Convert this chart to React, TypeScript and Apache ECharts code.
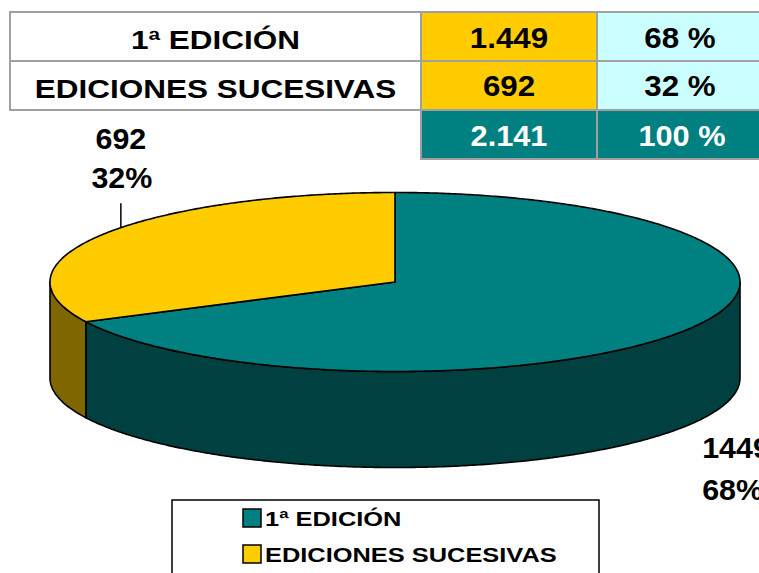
import React, { useEffect, useRef } from 'react';
import * as echarts from 'echarts';

// ---- data ----
const categories = ['1ª EDICIÓN', 'EDICIONES SUCESIVAS'];
const values = [1449, 692];
const valueTexts = ['1.449', '692'];
const percentTexts = ['68 %', '32 %'];
const totalText = '2.141';
const totalPercentText = '100 %';
const sliceValueLabels = ['1449', '692'];
const slicePercentLabels = ['68%', '32%'];

// ---- styles / layout ----
const FONT = '"Liberation Sans", Arial, sans-serif';
const topColors = ['#008080', '#FFCC00'];
const sideColors = ['#004040', '#806600'];
const CX = 395, CY = 282, RX = 345, RY = 89.5, DEPTH = 96;

const total = values.reduce((a, b) => a + b, 0);
const sliceAngles = (() => {
  let cum = 0;
  return values.map((v) => {
    const start = 90 - (360 * cum) / total;
    cum += v;
    const end = 90 - (360 * cum) / total;
    return { lo: end, hi: start, mid: (start + end) / 2 };
  });
})();

function pt(deg: number, dy = 0): number[] {
  const r = (deg * Math.PI) / 180;
  return [CX + RX * Math.cos(r), CY - RY * Math.sin(r) + dy];
}
function arc(a: number, b: number, dy: number): number[][] {
  const pts: number[][] = [];
  const n = Math.max(2, Math.ceil(Math.abs(b - a) / 0.5));
  for (let i = 0; i <= n; i++) pts.push(pt(a + ((b - a) * i) / n, dy));
  return pts;
}
function rimY(x: number): number {
  const t = (x - CX) / RX;
  return CY - RY * Math.sqrt(Math.max(0, 1 - t * t));
}

const labelLayout = [
  { side: 'bottom', dx: 14, dy: 22.5, align: 'left', lead: false, lineGap: 42.5 },
  { side: 'top', dx: 19, dy: -96.5, align: 'center', lead: true, lineGap: 39 },
];

const tableCols = [10, 421, 597, 771];
const tableRows = [12, 61, 110, 159];

export default function App() {
  const ref = useRef<HTMLDivElement>(null);
  useEffect(() => {
    if (!ref.current) return;
    const chart = echarts.init(ref.current, null, { renderer: 'svg' });
    const seriesData = values.map((v, i) => ({ value: v, name: categories[i] }));

    const graphics: any[] = [];
    const border = { stroke: '#A0A0A0', lineWidth: 2 };
    // table rows
    categories.forEach((c, i) => {
      const y0 = tableRows[i], y1 = tableRows[i + 1];
      const fills = ['#FFFFFF', '#FFCC00', '#CCFFFF'];
      for (let k = 0; k < 3; k++) {
        graphics.push({
          type: 'rect', shape: { x: tableCols[k], y: y0, width: tableCols[k + 1] - tableCols[k], height: y1 - y0 },
          style: { fill: fills[k], ...border }, z: 1,
        });
      }
      const texts = [c, valueTexts[i], percentTexts[i]];
      texts.forEach((t, k) => {
        const isLabel = k === 0;
        graphics.push({
          type: 'text', z: 2,
          x: (tableCols[k] + tableCols[k + 1]) / 2 + (k === 2 ? -4 : 0),
          y: isLabel ? [40, 89][i] : [37.5, 86][i],
          scaleX: isLabel ? 1.26 : 1.08,
          style: { text: t, fontSize: isLabel ? 25 : 29, fontWeight: 'bold', fontFamily: FONT, fill: '#000', align: 'center', verticalAlign: 'middle' },
        });
      });
    });
    // total row
    [totalText, totalPercentText].forEach((t, j) => {
      const k = j + 1;
      graphics.push({
        type: 'rect', shape: { x: tableCols[k], y: tableRows[2], width: tableCols[k + 1] - tableCols[k], height: tableRows[3] - tableRows[2] },
        style: { fill: '#008080', ...border }, z: 1,
      });
      graphics.push({
        type: 'text', z: 2,
        x: (tableCols[k] + tableCols[k + 1]) / 2 + (k === 2 ? -2 : 0), y: 136, scaleX: 1.06,
        style: { text: t, fontSize: 29, fontWeight: 'bold', fontFamily: FONT, fill: '#FFFFFF', align: 'center', verticalAlign: 'middle' },
      });
    });
    // legend
    graphics.push({
      type: 'rect', shape: { x: 172, y: 500, width: 427, height: 120 },
      style: { fill: '#FFFFFF', stroke: '#000', lineWidth: 1.5 }, z: 1,
    });
    categories.forEach((c, i) => {
      const yc = 518 + i * 36;
      graphics.push({
        type: 'rect', shape: { x: 243, y: yc - 9, width: 18, height: 18 },
        style: { fill: topColors[i], stroke: '#000', lineWidth: 1.5 }, z: 2,
      });
      graphics.push({
        type: 'text', x: 265, y: yc + 1, scaleX: 1.27, z: 2,
        style: { text: c, fontSize: 20, fontWeight: 'bold', fontFamily: FONT, fill: '#000', align: 'left', verticalAlign: 'middle' },
      });
    });

    const option: any = {
      animation: false,
      backgroundColor: '#FFFFFF',
      graphic: graphics,
      series: [
        {
          type: 'custom', name: 'sides', coordinateSystem: 'none', silent: true, z: 2,
          data: seriesData,
          renderItem: (params: any) => {
            const i = params.dataIndex;
            const { lo, hi } = sliceAngles[i];
            const children: any[] = [];
            for (let k = -2; k <= 2; k++) {
              const a = Math.max(lo, -180 + 360 * k);
              const b = Math.min(hi, 360 * k);
              if (b > a) {
                const pts = arc(a, b, 0).concat(arc(b, a, DEPTH));
                children.push({
                  type: 'polygon', shape: { points: pts },
                  style: { fill: sideColors[i], stroke: '#000', lineWidth: 1.6, lineJoin: 'round' },
                });
              }
            }
            return { type: 'group', children };
          },
        },
        {
          type: 'custom', name: 'tops', coordinateSystem: 'none', silent: true, z: 3,
          data: seriesData,
          renderItem: (params: any) => {
            const i = params.dataIndex;
            const { lo, hi } = sliceAngles[i];
            const pts = [[CX, CY]].concat(arc(hi, lo, 0));
            return {
              type: 'polygon', shape: { points: pts },
              style: { fill: topColors[i], stroke: '#000', lineWidth: 1.6, lineJoin: 'round' },
            };
          },
        },
        {
          type: 'custom', name: 'labels', coordinateSystem: 'none', silent: true, z: 4,
          data: seriesData,
          renderItem: (params: any) => {
            const i = params.dataIndex;
            const L = labelLayout[i];
            const p = pt(sliceAngles[i].mid, L.side === 'bottom' ? DEPTH : 0);
            const x = p[0] + L.dx;
            const y = p[1] + L.dy;
            const children: any[] = [
              {
                type: 'text', x, y, scaleX: 1.05,
                style: { text: sliceValueLabels[i], fontSize: 29, fontWeight: 'bold', fontFamily: FONT, fill: '#000', align: L.align, verticalAlign: 'middle' },
              },
              {
                type: 'text', x: x + (L.align === 'center' ? 1 : 0), y: y + L.lineGap, scaleX: 1.05,
                style: { text: slicePercentLabels[i], fontSize: 29, fontWeight: 'bold', fontFamily: FONT, fill: '#000', align: L.align, verticalAlign: 'middle' },
              },
            ];
            if (L.lead) {
              children.push({
                type: 'line', shape: { x1: x, y1: y + L.lineGap + 26, x2: x, y2: rimY(x) },
                style: { stroke: '#000', lineWidth: 1.5 },
              });
            }
            return { type: 'group', children };
          },
        },
      ],
    };
    chart.setOption(option);
    return () => chart.dispose();
  }, []);
  return <div ref={ref} style={{ position: 'fixed', left: 0, top: 0, width: 759, height: 573 }} />;
}
